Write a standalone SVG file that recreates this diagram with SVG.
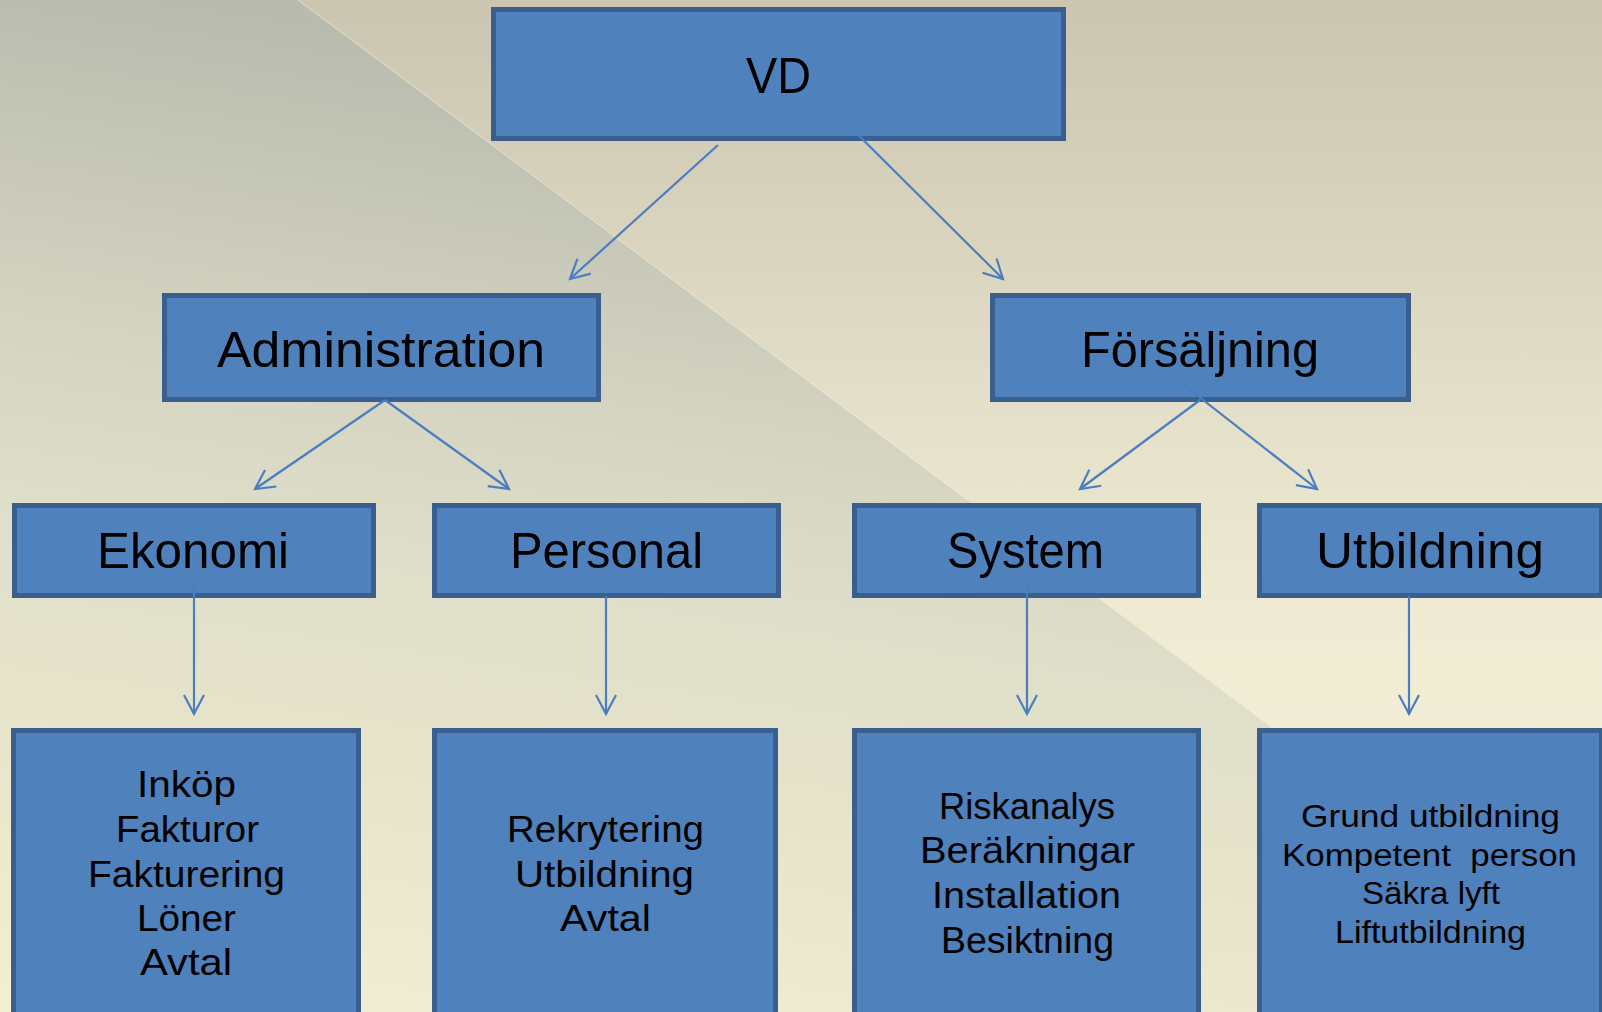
<svg xmlns="http://www.w3.org/2000/svg" width="1602" height="1012" viewBox="0 0 1602 1012">
<defs>
<linearGradient id="bgR" x1="0" y1="0" x2="0" y2="1012" gradientUnits="userSpaceOnUse">
<stop offset="0" stop-color="#cbc5b1"/>
<stop offset="0.43" stop-color="#e6e1ca"/>
<stop offset="0.65" stop-color="#f1ecd4"/>
<stop offset="1" stop-color="#f5f1da"/>
</linearGradient>
<linearGradient id="bgL" x1="150" y1="0" x2="0" y2="1012" gradientUnits="userSpaceOnUse">
<stop offset="0" stop-color="#b8bbae"/>
<stop offset="0.33" stop-color="#d5d4c2"/>
<stop offset="0.52" stop-color="#dfdfca"/>
<stop offset="0.65" stop-color="#e5e2ca"/>
<stop offset="1" stop-color="#f4efd3"/>
</linearGradient>
<marker id="arr" viewBox="-22 -12 24 24" markerWidth="24" markerHeight="24" refX="0" refY="0" orient="auto" markerUnits="userSpaceOnUse" overflow="visible">
<path d="M-19,-10 L0,0 L-19,10" fill="none" stroke="#4a7ebf" stroke-width="2.2"/>
</marker>
</defs>
<style>
.box{fill:#4f81bd;stroke:#3a5e8e;stroke-width:5}
.lbl{font-family:"Liberation Sans",Arial,sans-serif;fill:#000;text-anchor:middle}
.big{font-size:50px}
.mid{font-size:36px}
.sml{font-size:31px}
.con{stroke:#4a7ebf;stroke-width:2.2;fill:none;marker-end:url(#arr)}
</style>
<rect x="0" y="0" width="1602" height="1012" fill="url(#bgR)"/>
<polygon points="0,0 298,0 1602,974 1602,1012 0,1012" fill="url(#bgL)"/>
<line x1="298" y1="0" x2="1602" y2="974" stroke="#f2eedc" stroke-width="1" opacity="0.7"/>

<g id="node-vd">
<rect class="box" x="493.5" y="9.5" width="570" height="129"/>
<text class="lbl big" x="778.5" y="93" textLength="65" lengthAdjust="spacingAndGlyphs">VD</text>
</g>
<g id="node-administration">
<rect class="box" x="164.5" y="295.5" width="434" height="104"/>
<text class="lbl big" x="381" y="367" textLength="328" lengthAdjust="spacingAndGlyphs">Administration</text>
</g>
<g id="node-forsaljning">
<rect class="box" x="992.5" y="295.5" width="416" height="104"/>
<text class="lbl big" x="1200" y="367" textLength="238" lengthAdjust="spacingAndGlyphs">Försäljning</text>
</g>
<g id="node-ekonomi">
<rect class="box" x="14.5" y="505.5" width="359" height="90"/>
<text class="lbl big" x="193" y="568" textLength="192" lengthAdjust="spacingAndGlyphs">Ekonomi</text>
</g>
<g id="node-personal">
<rect class="box" x="434.5" y="505.5" width="344" height="90"/>
<text class="lbl big" x="606.5" y="568" textLength="193" lengthAdjust="spacingAndGlyphs">Personal</text>
</g>
<g id="node-system">
<rect class="box" x="854.5" y="505.5" width="344" height="90"/>
<text class="lbl big" x="1025.5" y="568" textLength="157" lengthAdjust="spacingAndGlyphs">System</text>
</g>
<g id="node-utbildning">
<rect class="box" x="1259.5" y="505.5" width="342" height="90"/>
<text class="lbl big" x="1430" y="568" textLength="228" lengthAdjust="spacingAndGlyphs">Utbildning</text>
</g>
<g id="node-ekonomi-tasks">
<rect class="box" x="13.5" y="730.5" width="345" height="290"/>
<text class="lbl mid" x="186.5" y="797" textLength="99" lengthAdjust="spacingAndGlyphs">Inköp</text>
<text class="lbl mid" x="187.5" y="842" textLength="143" lengthAdjust="spacingAndGlyphs">Fakturor</text>
<text class="lbl mid" x="186.5" y="887" textLength="197" lengthAdjust="spacingAndGlyphs">Fakturering</text>
<text class="lbl mid" x="186.5" y="931" textLength="99" lengthAdjust="spacingAndGlyphs">Löner</text>
<text class="lbl mid" x="186" y="975" textLength="92" lengthAdjust="spacingAndGlyphs">Avtal</text>
</g>
<g id="node-personal-tasks">
<rect class="box" x="434.5" y="730.5" width="341" height="290"/>
<text class="lbl mid" x="605.5" y="842" textLength="197" lengthAdjust="spacingAndGlyphs">Rekrytering</text>
<text class="lbl mid" x="604.5" y="887" textLength="179" lengthAdjust="spacingAndGlyphs">Utbildning</text>
<text class="lbl mid" x="605.5" y="931" textLength="91" lengthAdjust="spacingAndGlyphs">Avtal</text>
</g>
<g id="node-system-tasks">
<rect class="box" x="854.5" y="730.5" width="344" height="290"/>
<text class="lbl mid" x="1027" y="819" textLength="176" lengthAdjust="spacingAndGlyphs">Riskanalys</text>
<text class="lbl mid" x="1027.5" y="863" textLength="215" lengthAdjust="spacingAndGlyphs">Beräkningar</text>
<text class="lbl mid" x="1026.5" y="908" textLength="189" lengthAdjust="spacingAndGlyphs">Installation</text>
<text class="lbl mid" x="1027.5" y="953" textLength="173" lengthAdjust="spacingAndGlyphs">Besiktning</text>
</g>
<g id="node-utbildning-tasks">
<rect class="box" x="1259.5" y="730.5" width="342" height="290"/>
<text class="lbl sml" x="1430.5" y="827" textLength="259" lengthAdjust="spacingAndGlyphs">Grund utbildning</text>
<text class="lbl sml" x="1429.5" y="866" textLength="295" lengthAdjust="spacingAndGlyphs" xml:space="preserve">Kompetent  person</text>
<text class="lbl sml" x="1431" y="904" textLength="138" lengthAdjust="spacingAndGlyphs">Säkra lyft</text>
<text class="lbl sml" x="1430.5" y="943" textLength="191" lengthAdjust="spacingAndGlyphs">Liftutbildning</text>
</g>

<g id="connectors">
<line class="con" x1="718" y1="145" x2="570" y2="279"/>
<line class="con" x1="810" y1="87" x2="1003" y2="279"/>
<line class="con" x1="385" y1="400" x2="255" y2="489"/>
<line class="con" x1="385" y1="400" x2="509" y2="489"/>
<line class="con" x1="1200" y1="400" x2="1080" y2="489"/>
<line class="con" x1="1184" y1="385" x2="1317" y2="489"/>
<line class="con" x1="194" y1="580" x2="194" y2="714"/>
<line class="con" x1="606" y1="596" x2="606" y2="714"/>
<line class="con" x1="1027" y1="580" x2="1027" y2="714"/>
<line class="con" x1="1409" y1="596" x2="1409" y2="714"/>
</g>
</svg>
